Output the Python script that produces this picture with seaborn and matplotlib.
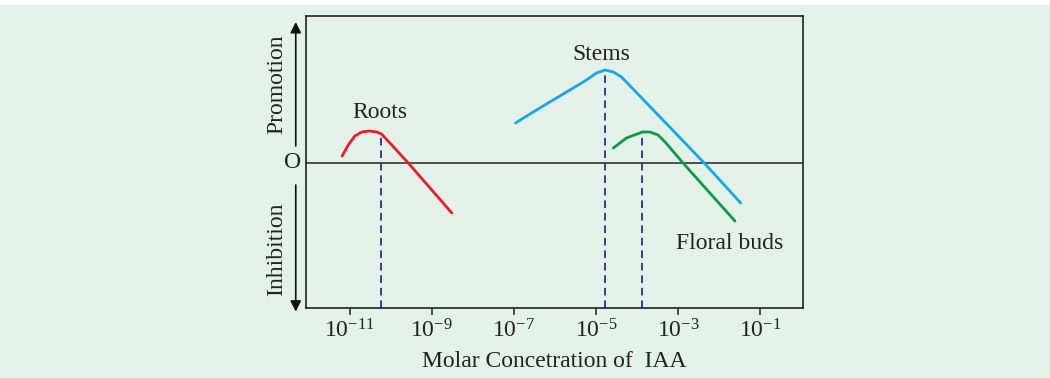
import numpy as np
import pandas as pd
import matplotlib
matplotlib.use("Agg")
import matplotlib.pyplot as plt
import seaborn as sns

# ---- data (x = log10 of molar IAA concentration, y = response, 0 = no effect) ----
roots_logc = [-11.18, -11.03, -10.87, -10.70, -10.52, -10.34, -10.22, -9.57, -8.51]
roots_resp = [0.07, 0.18, 0.27, 0.31, 0.32, 0.31, 0.29, 0.00, -0.50]

stems_logc = [-6.96, -6.41, -5.84, -5.27, -4.99, -4.78, -4.58, -4.38, -2.39, -1.48]
stems_resp = [0.40, 0.54, 0.68, 0.82, 0.90, 0.93, 0.91, 0.86, 0.01, -0.40]

buds_logc = [-4.58, -4.26, -3.87, -3.69, -3.49, -3.32, -2.84, -1.62]
buds_resp = [0.15, 0.25, 0.31, 0.31, 0.28, 0.21, -0.02, -0.58]

optimum_logc = [-10.24, -4.78, -3.87]
optimum_resp = [0.30, 0.93, 0.31]

tick_exponents = [-11, -9, -7, -5, -3, -1]
tick_labels = [r"$\mathregular{10^{%d}}$" % e for e in tick_exponents]

BG = "#e4f1e8"

sns.set_theme(style="ticks")
plt.rcParams["font.family"] = ["Liberation Serif", "DejaVu Serif"]
plt.rcParams["mathtext.fontset"] = "custom"
plt.rcParams["mathtext.rm"] = "Liberation Serif"
plt.rcParams["mathtext.it"] = "Liberation Serif:italic"
plt.rcParams["mathtext.bf"] = "Liberation Serif:bold"
plt.rcParams["lines.scale_dashes"] = False

fig = plt.figure(figsize=(10.5, 3.78), dpi=100, facecolor="white")
fig.patches.append(plt.Rectangle((0, 0), 1, 373 / 378, transform=fig.transFigure,
                                 facecolor=BG, edgecolor="none", zorder=-10))
ax = fig.add_axes([0.291, 0.1852, 0.4735, 0.7725])
ax.set_facecolor(BG)

def series(logc, resp, name):
    return pd.DataFrame({"conc": np.power(10.0, logc), "resp": resp, "organ": name})

df = pd.concat([series(roots_logc, roots_resp, "Roots"),
                series(stems_logc, stems_resp, "Stems"),
                series(buds_logc, buds_resp, "Floral buds")], ignore_index=True)

palette = {"Roots": "#ea1c2a", "Stems": "#17a6e6", "Floral buds": "#0c9a4a"}
sns.lineplot(data=df, x="conc", y="resp", hue="organ", palette=palette,
             estimator=None, sort=False, lw=2.0, legend=False, ax=ax)

ax.set_xscale("log")
ax.set_xlim(10 ** -12.07, 10 ** 0.03)
ax.set_ylim(-1.45, 1.47)
ax.set_ylabel("")

# zero line
ax.axhline(0, color="#222222", lw=1.1, zorder=1)

# optimum dashed drop lines
ax.vlines(np.power(10.0, optimum_logc), -1.45, optimum_resp, colors="#2c2c9e",
          linestyles=(0, (5.5, 3.5)), lw=1.3, zorder=1)

# labels on curves
ax.text(10 ** -10.26, 0.50, "Roots", ha="center", va="center", fontsize=17, color="#222222")
ax.text(10 ** -4.86, 1.08, "Stems", ha="center", va="center", fontsize=17, color="#222222")
ax.text(10 ** -1.74, -0.81, "Floral buds", ha="center", va="center", fontsize=17, color="#222222")

# axes styling
for s in ax.spines.values():
    s.set_visible(True)
    s.set_color("#222222")
    s.set_linewidth(1.2)
ax.set_xticks(np.power(10.0, tick_exponents))
ax.set_xticklabels(tick_labels)
ax.xaxis.set_minor_locator(matplotlib.ticker.NullLocator())
ax.tick_params(axis="x", direction="out", length=5, width=1.1, color="#222222",
               labelsize=17, labelcolor="#222222", pad=3)
ax.set_yticks([])

ax.set_xlabel("Molar Concetration of  IAA", fontsize=17, color="#222222", labelpad=6)

# y-axis annotations: arrows and words
tr = ax.get_yaxis_transform()
ax.annotate("", xy=(-0.0197, 1.41), xytext=(-0.0197, 0.17), xycoords=tr, textcoords=tr,
            arrowprops=dict(arrowstyle="-|>", mutation_scale=16, lw=1.2, color="#111111",
                            shrinkA=0, shrinkB=0), annotation_clip=False)
ax.annotate("", xy=(-0.0197, -1.487), xytext=(-0.0197, -0.22), xycoords=tr, textcoords=tr,
            arrowprops=dict(arrowstyle="-|>", mutation_scale=16, lw=1.2, color="#111111",
                            shrinkA=0, shrinkB=0), annotation_clip=False)
ax.text(-0.0573, 0.79, "Promotion", transform=tr, rotation=90, ha="center", va="center",
        fontsize=17, color="#222222", clip_on=False)
ax.text(-0.0573, -0.86, "Inhibition", transform=tr, rotation=90, ha="center", va="center",
        fontsize=17, color="#222222", clip_on=False)
ax.text(-0.0257, 0.0, "O", transform=tr, ha="center", va="center",
        fontsize=17, color="#222222", clip_on=False)

fig.savefig("out.png", dpi=100, facecolor=fig.get_facecolor())
